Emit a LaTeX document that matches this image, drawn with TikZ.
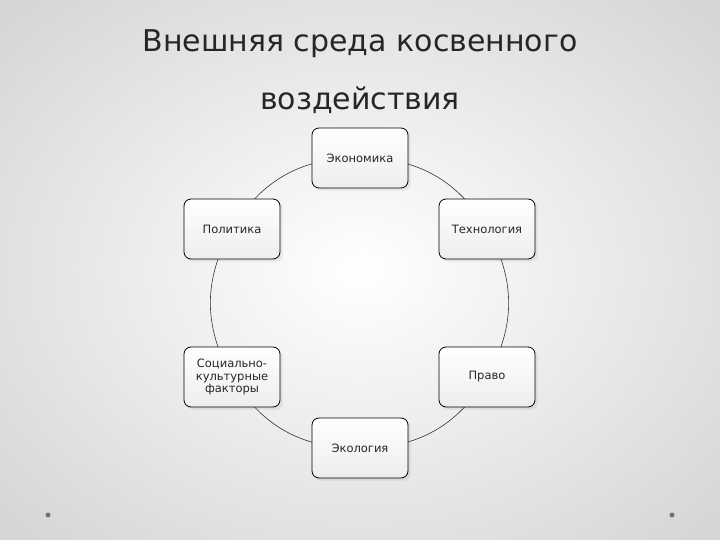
\documentclass[tikz,border=0pt]{standalone}
\usepackage{fontspec}
\setmainfont{DejaVu Sans}
\usetikzlibrary{backgrounds,shadows}
\begin{document}
\begin{tikzpicture}[x=1pt,y=-1pt,
  box/.style={draw=black,thick,rounded corners=7pt,minimum width=96pt,minimum height=60pt,
    top color=white,bottom color=black!7,font=\fontsize{11.5}{12.5}\selectfont,align=center,
    text=black!85,drop shadow={opacity=0.15}},
  title/.style={font=\fontsize{30}{34}\selectfont,text=black!85},
  link/.style={draw=black!80,line width=0.6pt}]
\useasboundingbox (0,0) rectangle (720,540);
\node[title] (t1) at (360,44) {Внешняя среда косвенного};
\node[title] (t2) at (360,100) {воздействия};
\node[box] (e) at (360,158) {Экономика};
\node[box] (t) at (487,229) {Технология};
\node[box] (p) at (487,377) {Право};
\node[box] (g) at (360,448) {Экология};
\node[box,inner sep=2pt] (s) at (232,377) {Социально-\\культурные\\факторы};
\node[box] (l) at (232,229) {Политика};
\begin{scope}[on background layer]
\shade[inner color=white,outer color=black!16] (-120,-100) rectangle (840,640);
\fill[black!55] (48,515) circle (2.5);
\fill[black!55] (672,515) circle (2.5);
\draw[link] (e.center) to[bend left=30] (t.center);
\draw[link] (t.center) to[bend left=30] (p.center);
\draw[link] (p.center) to[bend left=30] (g.center);
\draw[link] (g.center) to[bend left=30] (s.center);
\draw[link] (s.center) to[bend left=30] (l.center);
\draw[link] (l.center) to[bend left=30] (e.center);
\end{scope}
\end{tikzpicture}
\end{document}
